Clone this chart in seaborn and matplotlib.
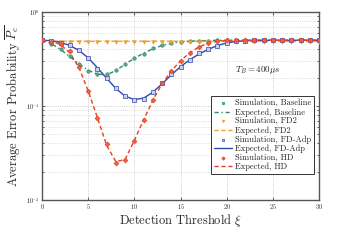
import numpy as np
import pandas as pd
import seaborn as sns
import matplotlib.pyplot as plt

# values (x = detection threshold 0..30)
xi = list(range(31))

baseline_sim = [0.5, 0.457, 0.40, 0.34, 0.278, 0.236, 0.219, 0.217, 0.241, 0.28, 0.327,
                0.36, 0.41, 0.446, 0.47, 0.48, 0.487, 0.492, 0.496, 0.5, 0.5,
                0.5, 0.5, 0.5, 0.5, 0.5, 0.5, 0.5, 0.5, 0.5, 0.5]
baseline_exp = [0.5, 0.46, 0.40, 0.335, 0.28, 0.24, 0.218, 0.215, 0.238, 0.278, 0.322,
                0.365, 0.405, 0.44, 0.465, 0.48, 0.489, 0.494, 0.497, 0.499, 0.5,
                0.5, 0.5, 0.5, 0.5, 0.5, 0.5, 0.5, 0.5, 0.5, 0.5]
fd2_sim = [0.5] + [0.485] * 30
fd2_exp = [0.5] + [0.487] * 30
fdadp_sim = [0.5, 0.495, 0.47, 0.446, 0.39, 0.324, 0.25, 0.197, 0.155, 0.127, 0.116,
             0.12, 0.141, 0.174, 0.217, 0.262, 0.309, 0.363, 0.40, 0.438, 0.468,
             0.488, 0.495, 0.5, 0.5, 0.5, 0.5, 0.5, 0.5, 0.5, 0.5]
fdadp_exp = [0.5, 0.495, 0.475, 0.44, 0.39, 0.325, 0.255, 0.197, 0.153, 0.127, 0.117,
             0.121, 0.14, 0.172, 0.214, 0.262, 0.31, 0.357, 0.40, 0.44, 0.468,
             0.486, 0.494, 0.498, 0.5, 0.5, 0.5, 0.5, 0.5, 0.5, 0.5]
hd_sim = [0.5, 0.48, 0.457, 0.38, 0.257, 0.145, 0.075, 0.039, 0.025, 0.0266, 0.0427,
          0.071, 0.116, 0.174, 0.238, 0.303, 0.37, 0.428, 0.468, 0.49, 0.498,
          0.5, 0.5, 0.5, 0.5, 0.5, 0.5, 0.5, 0.5, 0.5, 0.5]
hd_exp = [0.5, 0.49, 0.45, 0.37, 0.255, 0.145, 0.075, 0.038, 0.0255, 0.027, 0.043,
          0.071, 0.115, 0.172, 0.236, 0.302, 0.368, 0.425, 0.466, 0.488, 0.497,
          0.5, 0.5, 0.5, 0.5, 0.5, 0.5, 0.5, 0.5, 0.5, 0.5]

series = ["Baseline", "FD2", "FD-Adp", "HD"]
sims = [baseline_sim, fd2_sim, fdadp_sim, hd_sim]
exps = [baseline_exp, fd2_exp, fdadp_exp, hd_exp]

colors = {"Baseline": "#2e8b62", "FD2": "#f0a030", "FD-Adp": "#3048b0", "HD": "#e8401f"}
markers = {"Baseline": "o", "FD2": "v", "FD-Adp": "s", "HD": "D"}
faces = {"Baseline": "#5fae8a", "FD2": "#f0a030", "FD-Adp": "#c8d0f0", "HD": "#f06040"}
styles = {"Baseline": (0, (3, 2, 1, 2)), "FD2": (0, (3, 2)), "FD-Adp": "-", "HD": (0, (3, 2))}

sns.set_style("ticks")
plt.rcParams['font.family'] = ['cmr10', 'DejaVu Serif']
plt.rcParams['mathtext.fontset'] = 'cm'
plt.rcParams['axes.formatter.use_mathtext'] = True

fig = plt.figure(figsize=(3.39, 2.40), dpi=100)
ax = fig.add_axes([0.124, 0.167, 0.817, 0.783])

for name, ys, ye in zip(series, sims, exps):
    df = pd.DataFrame({"xi": xi, "sim": ys, "exp": ye})
    sns.lineplot(data=df, x="xi", y="exp", ax=ax, color=colors[name], lw=1.0,
                 linestyle=styles[name], label="Expected, " + name, zorder=2)
    sns.scatterplot(data=df, x="xi", y="sim", ax=ax, marker=markers[name], s=6,
                    color=faces[name], edgecolor=colors[name], linewidth=0.5,
                    label="Simulation, " + name, zorder=3)

ax.set_yscale("log")
ax.set_xlim(0, 30)
ax.set_ylim(1e-2, 1)
ax.set_xticks([0, 5, 10, 15, 20, 25, 30])
ax.grid(True, which="major", color="#bbbbbb", linestyle=":", linewidth=0.6)
ax.grid(True, which="minor", axis="y", color="#cccccc", linestyle=":", linewidth=0.5)
ax.tick_params(which="both", direction="in", top=True, right=True, labelsize=4.5,
               length=2, width=0.5, pad=1.5)
ax.tick_params(which="minor", length=1.2)
for lbl in ax.get_xticklabels() + ax.get_yticklabels():
    lbl.set_fontweight("bold")
for sp in ax.spines.values():
    sp.set_color("#555555")
    sp.set_linewidth(1.0)

ax.set_xlabel(r"Detection Threshold $\xi$", fontsize=9, labelpad=1)
ax.set_ylabel(r"Average Error Probability $\overline{P_e}$", fontsize=9, labelpad=2)
ax.text(23.4, 0.24, r"$T_B = 400\mu s$", fontsize=6.5, ha="center", va="center")

h, l = ax.get_legend_handles_labels()
lookup = dict(zip(l, h))
order = []
for name in series:
    order += ["Simulation, " + name, "Expected, " + name]
leg = ax.legend([lookup[k] for k in order], order, loc="lower right",
                bbox_to_anchor=(0.982, 0.138), fontsize=6.1, frameon=True, fancybox=False,
                edgecolor="#333333", framealpha=1, borderpad=0.35, labelspacing=0.08,
                handlelength=2.2, handletextpad=0.3, borderaxespad=0, markerscale=0.7)
leg.get_frame().set_linewidth(0.7)

fig.savefig("out.png", dpi=100)
